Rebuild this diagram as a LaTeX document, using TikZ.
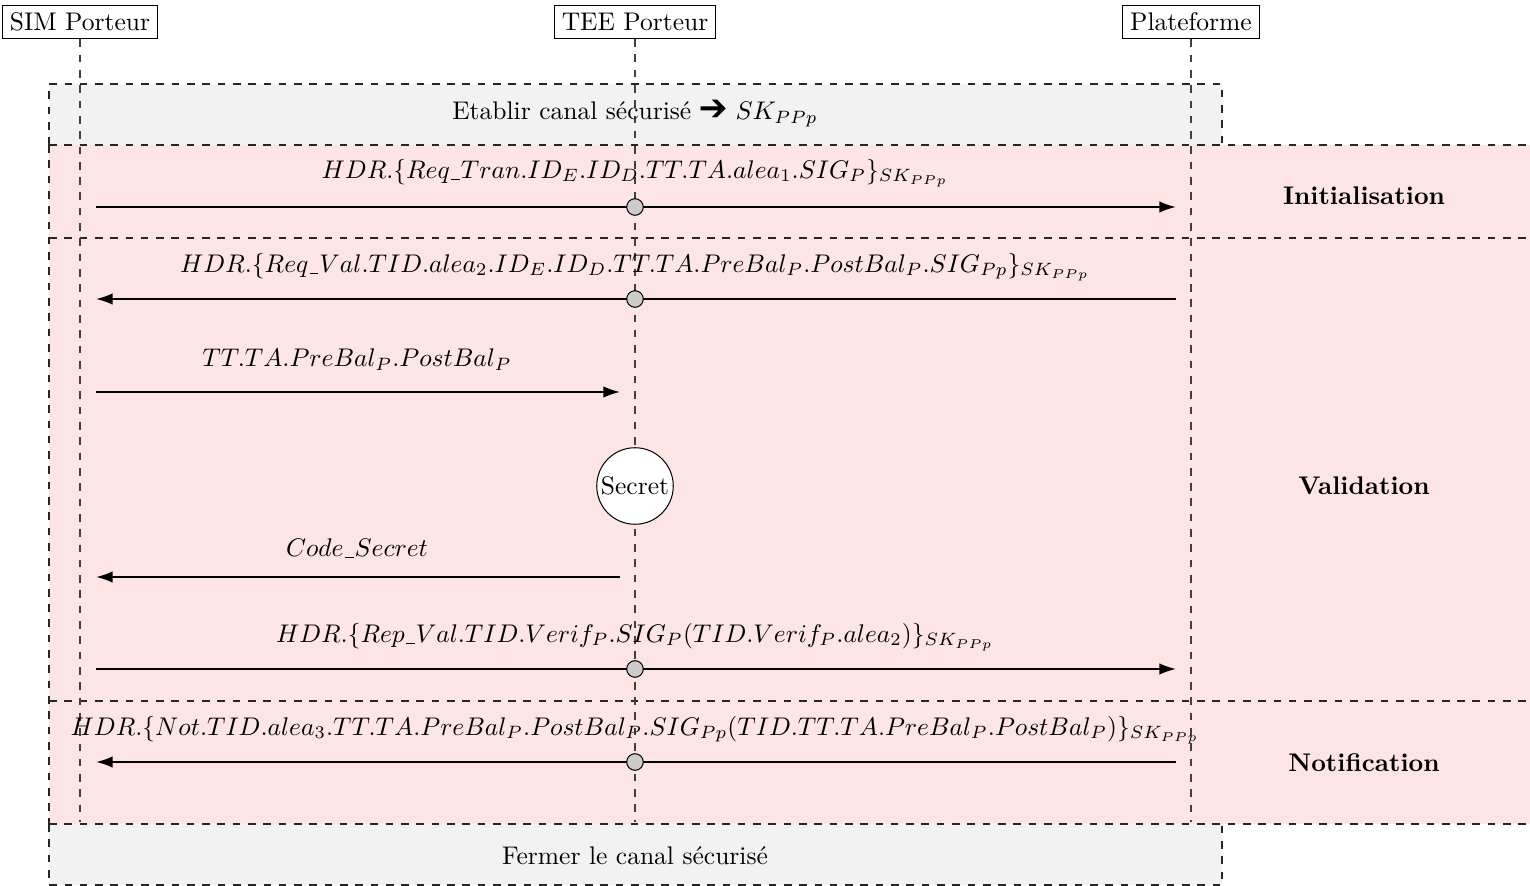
\documentclass[tikz,border=0pt]{standalone}
\usepackage{pifont}
\usetikzlibrary{arrows.meta}
\definecolor{phasepink}{RGB}{253,228,229}
\definecolor{phasegray}{RGB}{242,242,242}
\newcommand{\usc}{\kern0.04em\vrule height -0.25pt depth 0.65pt width 0.35em\kern0.04em}
\tikzset{
  actor/.style={draw, thin, fill=white, inner sep=3pt, font=\normalsize},
  lifeline/.style={dashed, black!75, thin},
  region/.style={dashed, thin, black!85},
  msg/.style={thick, -{Latex[length=6.5pt,width=4.5pt]}},
  dot/.style={circle, draw, thin, fill=black!20, minimum size=6.5pt, inner sep=0pt},
  secretnode/.style={circle, draw, thin, fill=white, minimum size=30pt, inner sep=0pt},
  phase/.style={font=\bfseries},
  lbl/.style={inner sep=0pt}
}
\begin{document}
\begin{tikzpicture}[x=0.392pt, y=-0.392pt]
\useasboundingbox (0,0) rectangle (1530,886);
% backgrounds
\fill[phasegray] (49,84) rectangle (1222,145);
\fill[phasepink] (49,145) rectangle (1530,824);
\fill[phasegray] (49,824) rectangle (1222,885);
\draw[region] (49,145) -- (49,84) -- (1222,84) -- (1222,145);
\draw[region] (49,145) -- (1530,145);
\draw[region] (49,238) -- (1530,238);
\draw[region] (49,701) -- (1530,701);
\draw[region] (49,824) -- (1530,824);
\draw[region] (49,145) -- (49,824);
\draw[region] (49,824) -- (49,885) -- (1222,885) -- (1222,824);
% actors
\node[actor] (sim) at (80,22) {SIM Porteur};
\node[actor] (tee) at (635,22) {TEE Porteur};
\node[actor] (plat) at (1191,22) {Plateforme};
\coordinate (simend) at (80,822);
\coordinate (teeend) at (635,822);
\coordinate (platend) at (1191,822);
\draw[lifeline] (sim) -- (simend);
\draw[lifeline] (tee) -- (teeend);
\draw[lifeline] (plat) -- (platend);
% section texts
\node[lbl] (open) at (635,114) {Etablir canal sécurisé {\large\ding{212}} $SK_{PPp}$};
\node[lbl] (close) at (635,856) {Fermer le canal sécurisé};
\node[phase] (ini) at (1364,196) {Initialisation};
\node[phase] (val) at (1364,486) {Validation};
\node[phase] (noti) at (1364,763) {Notification};
% endpoints
\coordinate (s1) at (96,207);  \coordinate (p1) at (1176,207);
\coordinate (s2) at (96,299);  \coordinate (p2) at (1176,299);
\coordinate (s3) at (96,392);  \coordinate (t3) at (620,392);
\coordinate (s5) at (96,577);  \coordinate (t5) at (620,577);
\coordinate (s6) at (96,669);  \coordinate (p6) at (1176,669);
\coordinate (s7) at (96,762);  \coordinate (p7) at (1176,762);
% messages
\draw[msg] (s1) -- (p1);
\draw[msg] (p2) -- (s2);
\draw[msg] (s3) -- (t3);
\draw[msg] (t5) -- (s5);
\draw[msg] (s6) -- (p6);
\draw[msg] (p7) -- (s7);
% dots
\node[dot] (d1) at (635,207) {};
\node[dot] (d2) at (635,299) {};
\node[dot] (d6) at (635,669) {};
\node[dot] (d7) at (635,762) {};
\node[secretnode] (secret) at (635,486) {Secret};
% labels
\node[lbl] (m1) at (635,173) {$HDR.\{Req\usc Tran.ID_E.ID_D.TT.TA.alea_1.SIG_P\}_{SK_{PPp}}$};
\node[lbl] (m2) at (635,267) {$HDR.\{Req\usc Val.TID.alea_2.ID_E.ID_D.TT.TA.PreBal_P.PostBal_P.SIG_{Pp}\}_{SK_{PPp}}$};
\node[lbl] (m3) at (357,360) {$TT.TA.PreBal_P.PostBal_P$};
\node[lbl] (m5) at (357,548) {$Code\usc Secret$};
\node[lbl] (m6) at (635,637) {$HDR.\{Rep\usc Val.TID.Verif_P.SIG_P(TID.Verif_P.alea_2)\}_{SK_{PPp}}$};
\node[lbl] (m7) at (635,730) {$HDR.\{Not.TID.alea_3.TT.TA.PreBal_P.PostBal_P.SIG_{Pp}(TID.TT.TA.PreBal_P.PostBal_P)\}_{SK_{PPp}}$};
\end{tikzpicture}
\end{document}
